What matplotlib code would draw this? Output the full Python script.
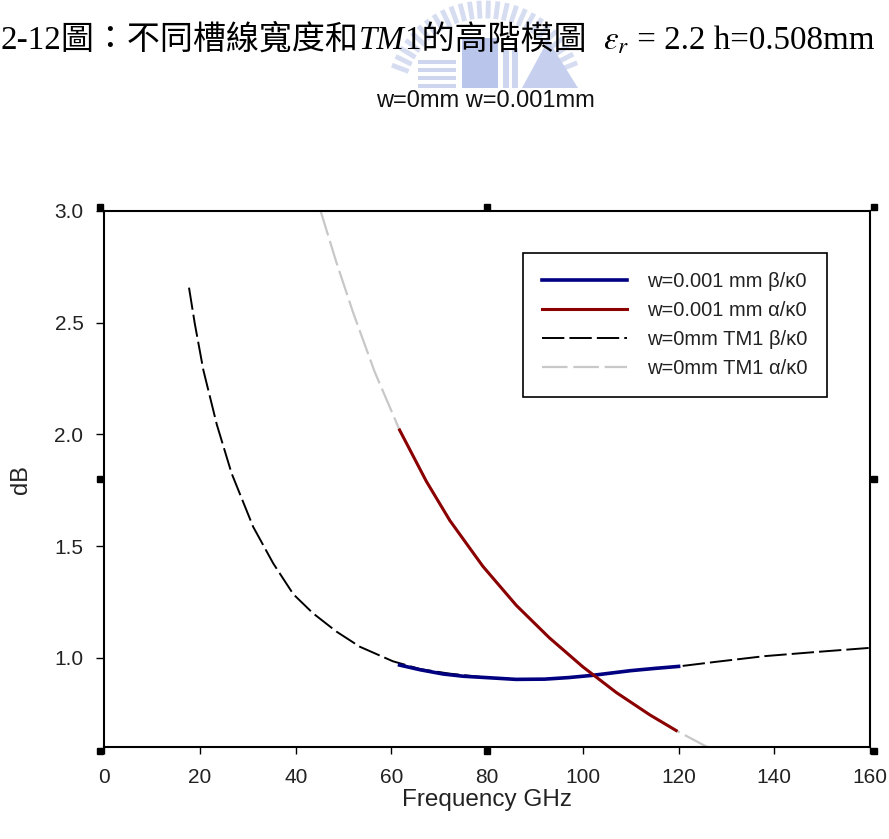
import numpy as np
import matplotlib
matplotlib.use("Agg")
import matplotlib.pyplot as plt
from matplotlib.lines import Line2D
from matplotlib.patches import Rectangle, Polygon
import matplotlib.transforms as mtransforms

plt.rcParams['mathtext.fontset'] = 'stix'

# ---------------- data ----------------
# w=0mm TM1 beta/k0 (black dashed)
tm1_beta_x = [17.7, 18.9, 20.7, 23.5, 26.6, 31.1, 35.3, 39.5, 43.6, 48.5, 53.4, 60.3,
              66.0, 72.0, 79.8, 86.0, 92.0, 97.0, 102.0, 110.0, 120.0, 128.0, 138.0, 149.0, 160.0]
tm1_beta_y = [2.657, 2.497, 2.288, 2.045, 1.826, 1.587, 1.423, 1.285, 1.200, 1.118, 1.050, 0.985,
              0.950, 0.930, 0.912, 0.904, 0.905, 0.912, 0.922, 0.943, 0.962, 0.983, 1.008, 1.027, 1.045]

# w=0mm TM1 alpha/k0 (grey dashed)
tm1_alpha_x = [45.2, 48.5, 52.0, 56.5, 61.7, 67.3, 72.2, 79.1, 86.1, 93.0, 100.0, 107.0, 114.0, 119.5, 126.1]
tm1_alpha_y = [3.000, 2.770, 2.545, 2.280, 2.020, 1.790, 1.615, 1.410, 1.235, 1.090, 0.960, 0.845, 0.745, 0.675, 0.600]

# w=0.001mm beta/k0 (blue)
w001_beta_x = [61.7, 66.0, 70.8, 75.0, 79.8, 86.0, 92.0, 97.0, 102.0, 110.0, 115.0, 120.0]
w001_beta_y = [0.968, 0.947, 0.928, 0.918, 0.912, 0.904, 0.905, 0.912, 0.922, 0.943, 0.953, 0.962]

# w=0.001mm alpha/k0 (red)
w001_alpha_x = [61.7, 67.3, 72.2, 79.1, 86.1, 93.0, 100.0, 107.0, 114.0, 119.5]
w001_alpha_y = [2.020, 1.790, 1.615, 1.410, 1.235, 1.090, 0.960, 0.845, 0.745, 0.675]

legend_labels = ["w=0.001 mm \u03b2/\u03ba0", "w=0.001 mm \u03b1/\u03ba0",
                 "w=0mm TM1 \u03b2/\u03ba0", "w=0mm TM1 \u03b1/\u03ba0"]
x_ticks = [0, 20, 40, 60, 80, 100, 120, 140, 160]
y_ticks = [1.0, 1.5, 2.0, 2.5, 3.0]

# ---------------- figure ----------------
W, H = 889, 839
fig = plt.figure(figsize=(W / 100, H / 100), dpi=100)
fig.patch.set_facecolor('white')

def fx(x):
    return x / W

def fy(y):
    return 1 - y / H

# watermark logo (faint)
ray_col = '#d6ddf1'
cx, cy = 485, 100
for ang in np.arange(22, 160, 5.5):
    a = np.deg2rad(ang)
    r0, r1 = 84, 97
    xs = [cx + r0 * np.cos(a), cx + r1 * np.cos(a)]
    ys = [cy - r0 * np.sin(a), cy - r1 * np.sin(a)]
    fig.add_artist(Line2D([fx(v) for v in xs], [fy(v) for v in ys], color=ray_col, lw=3.5, zorder=0))
for i in range(4):
    fig.add_artist(Rectangle((fx(418), fy(60 + i * 8 + 4)), fx(38), 4 / H, color='#cdd5ef', zorder=0, lw=0))
fig.add_artist(Rectangle((fx(462), fy(88)), fx(36), 50 / H, color='#b9c5ea', zorder=0, lw=0))
fig.add_artist(Rectangle((fx(503), fy(88)), fx(6), 40 / H, color='#cdd5ef', zorder=0, lw=0))
fig.add_artist(Rectangle((fx(512), fy(88)), fx(6), 40 / H, color='#cdd5ef', zorder=0, lw=0))
fig.add_artist(Polygon([(fx(522), fy(88)), (fx(548), fy(40)), (fx(578), fy(88))], closed=True,
                       color='#c6d0ee', zorder=0, lw=0))

# title (composed of pieces)
serif_cjk = ['Liberation Serif', 'Noto Sans CJK TC']
title_fs = 23.8
pieces = [
    ("2-12圖：不同槽線寬度和", dict(family=serif_cjk, weight='light')),
    ("TM", dict(family='Liberation Serif', style='italic')),
    ("1的高階模圖  ", dict(family=serif_cjk, weight='light')),
    (r"$\varepsilon_r$", dict(family='Liberation Serif')),
    (" = 2.2 h=0.508mm", dict(family='Liberation Serif')),
]
renderer = fig.canvas.get_renderer()
xcur = fx(1)
ybase = fy(49)
for s, kw in pieces:
    t = fig.text(xcur, ybase, s, fontsize=title_fs, va='baseline', ha='left', color='black', **kw)
    bb = t.get_window_extent(renderer)
    xcur += bb.width / W

fig.text(fx(485), fy(101), "w=0mm w=0.001mm", fontsize=17, family='Liberation Sans',
         ha='center', va='center', color='#111111')

# axes
ax = fig.add_axes([fx(104.3), fy(747.3), (870 - 104.3) / W, (747.3 - 211) / H])
ax.set_xlim(0, 160)
ax.set_ylim(0.6, 3.0)

dash = (11.5, 2.6)
l_tb, = ax.plot(tm1_beta_x, tm1_beta_y, color='black', lw=1.4, dashes=dash, zorder=2)
l_wb, = ax.plot(w001_beta_x, w001_beta_y, color='#000080', lw=2.6, zorder=3)
l_ta, = ax.plot(tm1_alpha_x, tm1_alpha_y, color='#c8c8c8', lw=1.6, dashes=dash, zorder=2)
l_wa, = ax.plot(w001_alpha_x, w001_alpha_y, color='#8b0000', lw=2.2, zorder=3)

ax.set_xticks(x_ticks)
ax.set_yticks(y_ticks)
ax.set_xticklabels([str(v) for v in x_ticks])
ax.set_yticklabels([f"{v:.1f}" for v in y_ticks])
for sp in ax.spines.values():
    sp.set_linewidth(1.5)
    sp.set_color('black')
ax.tick_params(axis='x', direction='out', length=5, width=1, pad=10, labelsize=15,
               labelcolor='#222222')
ax.tick_params(axis='y', direction='out', length=6, width=1, pad=9, labelsize=15,
               labelcolor='#222222')
for lab in ax.get_xticklabels() + ax.get_yticklabels():
    lab.set_family('Liberation Sans')

ax.set_xlabel("Frequency GHz", fontsize=17.5, family='Liberation Sans', color='#222222')
ax.set_ylabel("dB", fontsize=17, family='Liberation Sans', color='#222222')
ax.xaxis.set_label_coords(0.5, -0.078)
ax.yaxis.set_label_coords(-0.094, 0.5)

leg = ax.legend([l_wb, l_wa, l_tb, l_ta], legend_labels, loc='upper left',
                bbox_to_anchor=(0.547, 0.9217), borderaxespad=0, frameon=True,
                fancybox=False, edgecolor='black', framealpha=1,
                prop={'family': 'Liberation Sans', 'size': 14.5},
                handlelength=4.2, handletextpad=1.0, borderpad=0.95, labelspacing=0.5)
leg.get_frame().set_linewidth(1.2)
for t in leg.get_texts():
    t.set_color('#222222')

# selection handles around the plot
for (ux, uy) in [(0, 1), (0.5, 1), (1, 1), (0, 0.5), (1, 0.5), (0, 0), (0.5, 0), (1, 0)]:
    dx = {0: -0.04, 0.5: 0.0, 1: 0.04}[ux]
    dy = {0: -0.04, 0.5: 0.0, 1: 0.04}[uy]
    tr = ax.transAxes + mtransforms.ScaledTranslation(dx, dy, fig.dpi_scale_trans)
    ax.add_line(Line2D([ux], [uy], marker='s', markersize=5, color='black', transform=tr,
                       clip_on=False, zorder=5))

fig.savefig("out.png", dpi=100, facecolor='white')
